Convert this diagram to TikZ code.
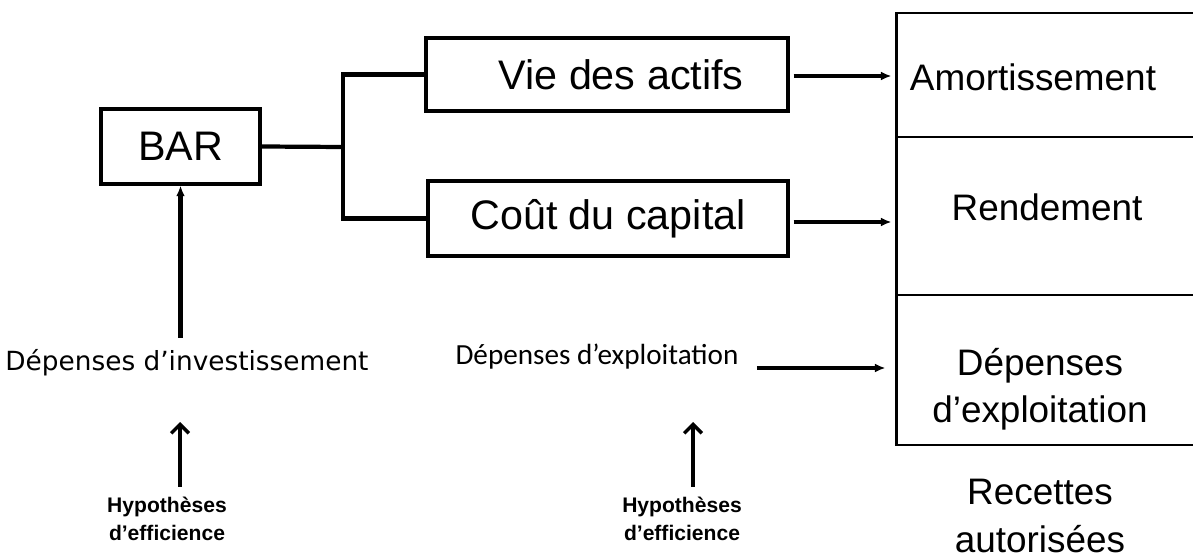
\documentclass[tikz,border=0pt]{standalone}
\usepackage{fontspec}
\setmainfont{Liberation Sans}
\newfontfamily\verdanafont{DejaVu Sans}
\newfontfamily\calibrifont{Carlito}
\usetikzlibrary{arrows.meta,calc}

\begin{document}
\begin{tikzpicture}[x=0.02cm,y=-0.02cm,
  box/.style={draw,line width=1.8pt,inner sep=0pt,font=\fontsize{23.5}{27}\selectfont},
  cell/.style={draw,line width=1.7pt,inner sep=0pt,minimum width=320*0.02cm},
  celltxt/.style={inner sep=0pt,align=center,font=\fontsize{21}{27}\selectfont},
  link/.style={line width=2.4pt},
  arr/.style={line width=2.3pt,-{Latex[length=6pt,width=5pt]}},
  hyparr/.style={line width=2pt,-{Straight Barb[length=5pt,width=10pt,line width=2pt]}},
  hyp/.style={inner sep=0pt,align=center,font=\fontsize{12}{16}\selectfont\bfseries}]
\useasboundingbox (0,0) rectangle (1193,560);
% boxes
\node[box,minimum width=159*0.02cm,minimum height=75*0.02cm] (bar) at (180.5,146.5) {BAR};
\node[box,minimum width=362*0.02cm,minimum height=73*0.02cm] (vie) at (607,74.5) {\hspace{16pt}Vie des actifs};
\node[box,minimum width=360*0.02cm,minimum height=75*0.02cm] (cout) at (608,218.5) {Coût du capital};
% right column
\node[cell,minimum height=124*0.02cm] (amort) at (1056,75) {};
\node[cell,minimum height=158*0.02cm] (rend) at (1056,216) {};
\node[cell,minimum height=150*0.02cm] (depcell) at (1056,370) {};
\node[celltxt] (amorttxt) at (1033,77) {Amortissement};
\node[celltxt] (rendtxt) at (1047,207) {Rendement};
\node[celltxt] (deptxt) at (1040,389) {Dépenses\\d’exploitation};
\node[celltxt] (recettes) at (1040,516) {Recettes\\autorisées};
% lower labels
\node[inner sep=0pt,font=\verdanafont\fontsize{15}{18}\selectfont] (inv) at (187,363) {Dépenses d’investissement};
\node[inner sep=0pt,font=\calibrifont\fontsize{16.6}{20}\selectfont] (expl) at (597,357) {Dépenses d’exploitation};
\node[hyp] (hypa) at (167,519) {Hypothèses\\d’efficience};
\node[hyp] (hypb) at (682,519) {Hypothèses\\d’efficience};
% connectors
\coordinate (fork) at (343,147);
\draw[link] (bar.east) -- (fork);
\draw[link] (vie.west) -| (fork) |- (cout.west);
\draw[arr] ($(vie.east)+(4,1.5)$) -- ($(vie.east -| amort.west)+(-3,1.5)$);
\draw[arr] ($(cout.east)+(4,3.5)$) -- ($(cout.east -| rend.west)+(-3,3.5)$);
\draw[arr] ($(expl.east)+(18,11)$) -- ($(expl.east -| depcell.west)+(-9,11)$);
\draw[arr] (bar.south |- 0,338) -- (bar.south);
\draw[hyparr] (hypa.north -| 180,0) ++(0,-10) -- (180,422);
\draw[hyparr] (hypb.north -| 693,0) ++(0,-10) -- (693,422);
\end{tikzpicture}
\end{document}
